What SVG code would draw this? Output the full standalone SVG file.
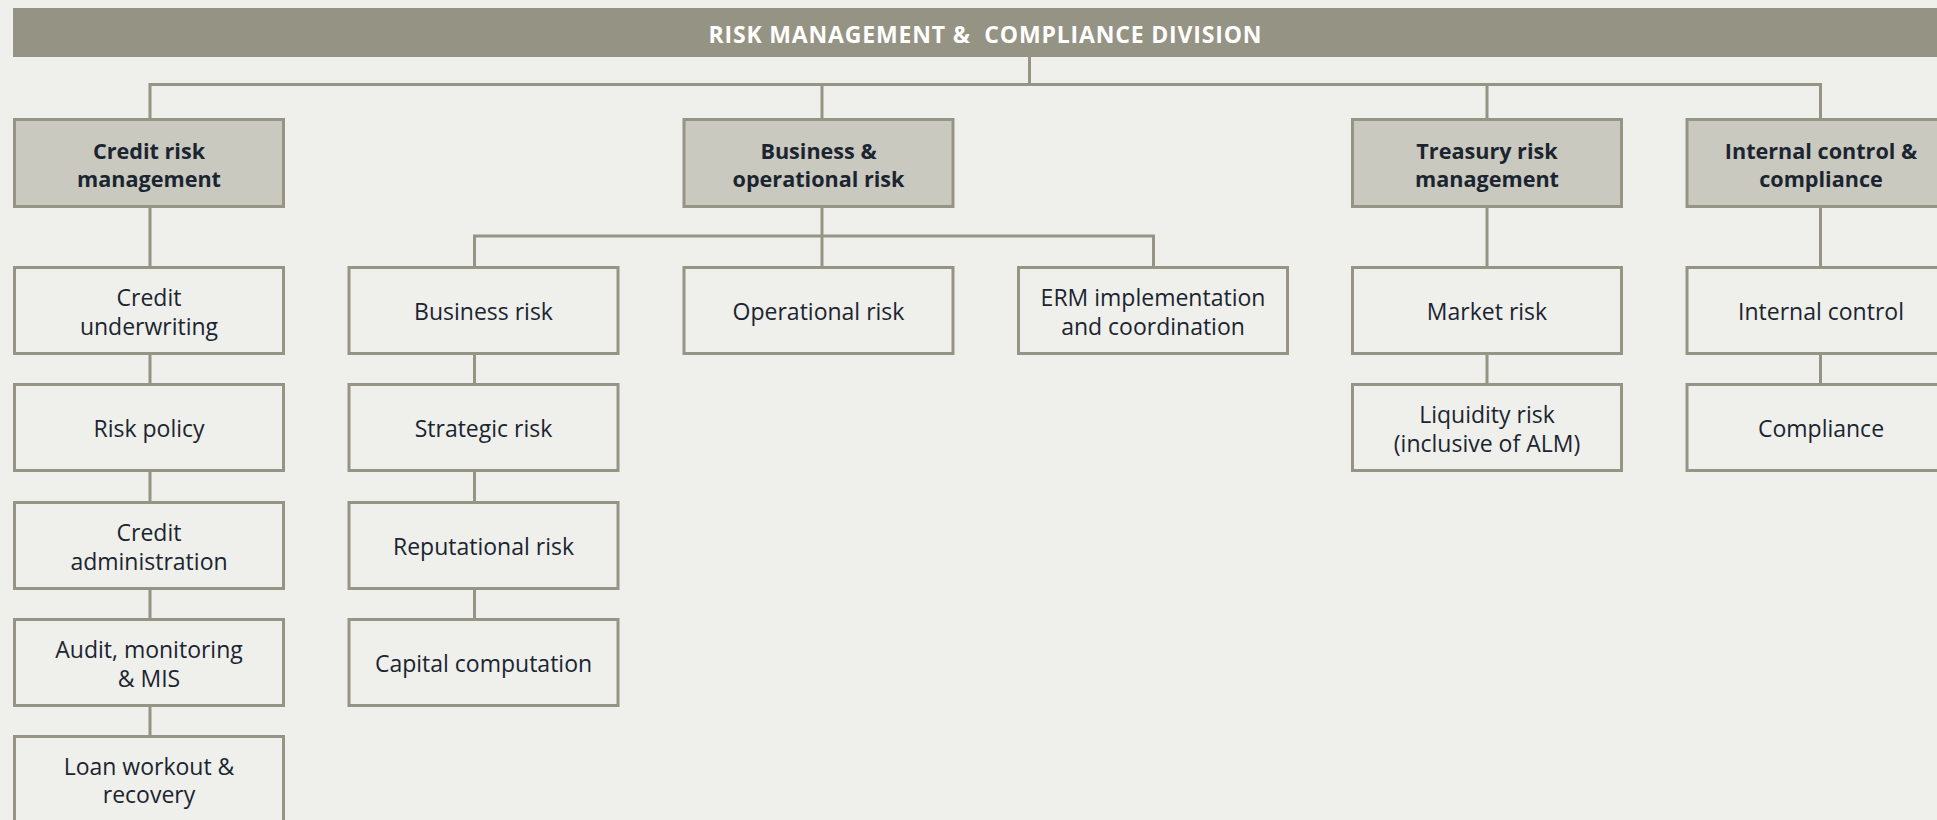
<svg xmlns="http://www.w3.org/2000/svg" width="1937" height="820" viewBox="0 0 1937 820">
  <style>
    .bg { fill: #efefec; }
    .head { fill: #959384; }
    .head-text { font-family: "Open Sans", "Liberation Sans", sans-serif; font-weight: 700; font-size: 23px; fill: #ffffff; white-space: pre; }
    .unit { fill: #cac9c0; stroke: #969485; stroke-width: 3; }
    .team { fill: #efefec; stroke: #969485; stroke-width: 3; }
    .unit-text { font-family: "Open Sans", "Liberation Sans", sans-serif; font-weight: 700; font-size: 21.6px; fill: #1b2530; text-anchor: middle; }
    .team-text { font-family: "Open Sans", "Liberation Sans", sans-serif; font-size: 23px; fill: #1b2530; text-anchor: middle; }
    .link { fill: none; stroke: #969485; stroke-width: 3; stroke-linejoin: miter; stroke-linecap: butt; }
  </style>

  <rect class="bg" x="0" y="0" width="1937" height="820"/>

  <!-- Division header -->
  <g id="division">
    <rect class="head" x="13" y="8" width="1930" height="49"/>
    <text class="head-text" x="985" y="42.5" text-anchor="middle" textLength="553">RISK MANAGEMENT &amp;  COMPLIANCE DIVISION</text>
  </g>

  <!-- Connectors -->
  <g id="connectors">
    <path class="link" d="M1029.5 57 V84.5"/>
    <path class="link" d="M150 118 V84.5 H1820.5 V118"/>
    <path class="link" d="M822 84.5 V118"/>
    <path class="link" d="M1487 84.5 V118"/>
    <!-- credit risk chain -->
    <path class="link" d="M150 208 V266 M150 355 V383 M150 472 V501 M150 590 V618 M150 707 V735"/>
    <!-- business & operational risk -->
    <path class="link" d="M822 208 V266"/>
    <path class="link" d="M474.5 266 V236 H1153.5 V266"/>
    <path class="link" d="M474.5 355 V383 M474.5 472 V501 M474.5 590 V618"/>
    <!-- treasury -->
    <path class="link" d="M1487 208 V266 M1487 355 V383"/>
    <!-- internal control -->
    <path class="link" d="M1820.5 208 V266 M1820.5 355 V383"/>
  </g>

  <!-- Level 1 units -->
  <g id="credit-risk-management">
    <rect class="unit" x="14.5" y="119.5" width="269" height="87"/>
    <text class="unit-text" x="149" y="158.5">Credit risk</text>
    <text class="unit-text" x="149" y="187">management</text>
  </g>
  <g id="business-operational-risk">
    <rect class="unit" x="684" y="119.5" width="269" height="87"/>
    <text class="unit-text" x="818.5" y="158.5">Business &amp;</text>
    <text class="unit-text" x="818.5" y="187">operational risk</text>
  </g>
  <g id="treasury-risk-management">
    <rect class="unit" x="1352.5" y="119.5" width="269" height="87"/>
    <text class="unit-text" x="1487" y="158.5">Treasury risk</text>
    <text class="unit-text" x="1487" y="187">management</text>
  </g>
  <g id="internal-control-compliance">
    <rect class="unit" x="1687" y="119.5" width="269" height="87"/>
    <text class="unit-text" x="1821" y="158.5">Internal control &amp;</text>
    <text class="unit-text" x="1821" y="187">compliance</text>
  </g>

  <!-- Credit risk teams -->
  <g id="credit-underwriting">
    <rect class="team" x="14.5" y="267.5" width="269" height="86"/>
    <text class="team-text" x="149" y="306">Credit</text>
    <text class="team-text" x="149" y="334.5">underwriting</text>
  </g>
  <g id="risk-policy">
    <rect class="team" x="14.5" y="384.5" width="269" height="86"/>
    <text class="team-text" x="149" y="436.5">Risk policy</text>
  </g>
  <g id="credit-administration">
    <rect class="team" x="14.5" y="502.5" width="269" height="86"/>
    <text class="team-text" x="149" y="541">Credit</text>
    <text class="team-text" x="149" y="569.5">administration</text>
  </g>
  <g id="audit-monitoring-mis">
    <rect class="team" x="14.5" y="619.5" width="269" height="86"/>
    <text class="team-text" x="149" y="658">Audit, monitoring</text>
    <text class="team-text" x="149" y="686.5">&amp; MIS</text>
  </g>
  <g id="loan-workout-recovery">
    <rect class="team" x="14.5" y="736.5" width="269" height="86"/>
    <text class="team-text" x="149" y="774.5">Loan workout &amp;</text>
    <text class="team-text" x="149" y="803">recovery</text>
  </g>

  <!-- Business & operational risk teams -->
  <g id="business-risk">
    <rect class="team" x="349" y="267.5" width="269" height="86"/>
    <text class="team-text" x="483.5" y="319.5">Business risk</text>
  </g>
  <g id="strategic-risk">
    <rect class="team" x="349" y="384.5" width="269" height="86"/>
    <text class="team-text" x="483.5" y="436.5">Strategic risk</text>
  </g>
  <g id="reputational-risk">
    <rect class="team" x="349" y="502.5" width="269" height="86"/>
    <text class="team-text" x="483.5" y="554.5">Reputational risk</text>
  </g>
  <g id="capital-computation">
    <rect class="team" x="349" y="619.5" width="269" height="86"/>
    <text class="team-text" x="483.5" y="671.5">Capital computation</text>
  </g>
  <g id="operational-risk">
    <rect class="team" x="684" y="267.5" width="269" height="86"/>
    <text class="team-text" x="818.5" y="319.5">Operational risk</text>
  </g>
  <g id="erm-implementation">
    <rect class="team" x="1018.5" y="267.5" width="269" height="86"/>
    <text class="team-text" x="1153" y="306">ERM implementation</text>
    <text class="team-text" x="1153" y="334.5">and coordination</text>
  </g>

  <!-- Treasury teams -->
  <g id="market-risk">
    <rect class="team" x="1352.5" y="267.5" width="269" height="86"/>
    <text class="team-text" x="1487" y="319.5">Market risk</text>
  </g>
  <g id="liquidity-risk">
    <rect class="team" x="1352.5" y="384.5" width="269" height="86"/>
    <text class="team-text" x="1487" y="423">Liquidity risk</text>
    <text class="team-text" x="1487" y="451.5">(inclusive of ALM)</text>
  </g>

  <!-- Internal control teams -->
  <g id="internal-control">
    <rect class="team" x="1687" y="267.5" width="269" height="86"/>
    <text class="team-text" x="1821" y="319.5">Internal control</text>
  </g>
  <g id="compliance">
    <rect class="team" x="1687" y="384.5" width="269" height="86"/>
    <text class="team-text" x="1821" y="436.5">Compliance</text>
  </g>
</svg>
